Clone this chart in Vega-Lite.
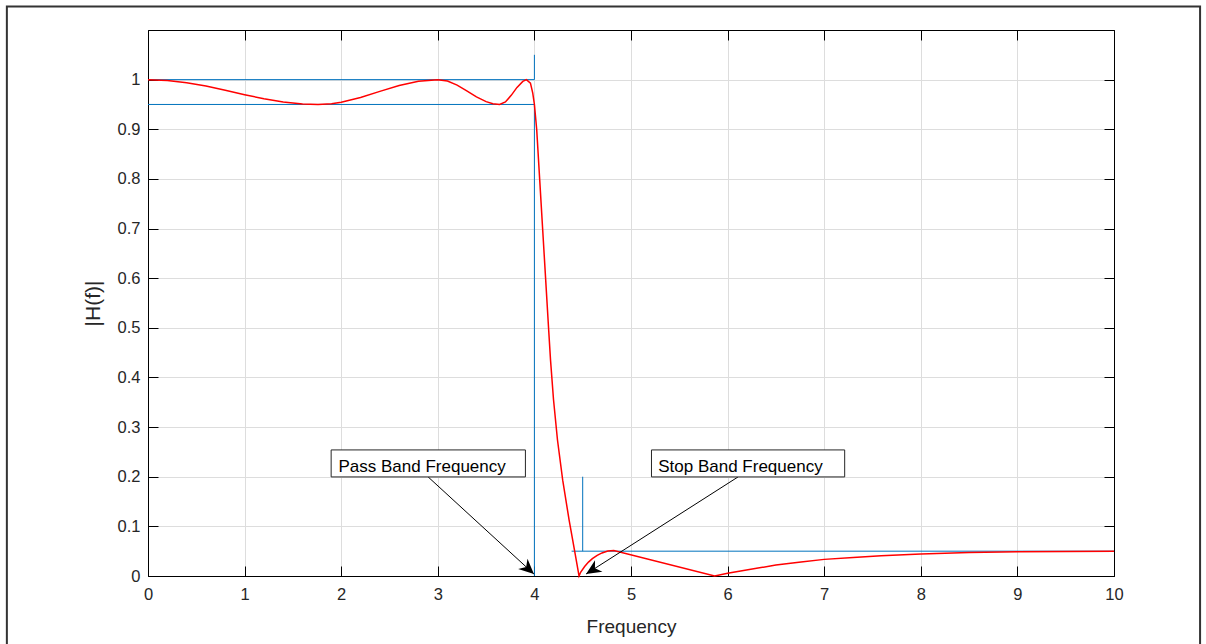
{
  "$schema": "https://vega.github.io/schema/vega-lite/v6.json",
  "width": 966,
  "height": 546,
  "autosize": {"type": "none"},
  "padding": {"left": 148, "top": 30, "right": 92, "bottom": 68},
  "background": "white",
  "config": {
    "view": {"stroke": "#000000", "strokeWidth": 1},
    "font": "Liberation Sans"
  },
  "datasets": {
    "curve": [
      {"f": 0, "h": 1.0}, {"f": 0.2, "h": 0.9984}, {"f": 0.4, "h": 0.9939}, {"f": 0.6, "h": 0.987},
      {"f": 0.8, "h": 0.9786}, {"f": 1.0, "h": 0.9697}, {"f": 1.2, "h": 0.9615}, {"f": 1.4, "h": 0.955},
      {"f": 1.6, "h": 0.951}, {"f": 1.76, "h": 0.95}, {"f": 1.9, "h": 0.9516}, {"f": 2.0, "h": 0.9545},
      {"f": 2.2, "h": 0.964}, {"f": 2.4, "h": 0.9763}, {"f": 2.6, "h": 0.9882}, {"f": 2.8, "h": 0.9969},
      {"f": 3.0, "h": 1.0}, {"f": 3.1, "h": 0.9971}, {"f": 3.2, "h": 0.9889}, {"f": 3.3, "h": 0.9775},
      {"f": 3.4, "h": 0.9654}, {"f": 3.5, "h": 0.9557}, {"f": 3.57, "h": 0.9515}, {"f": 3.64, "h": 0.95},
      {"f": 3.7, "h": 0.9551}, {"f": 3.76, "h": 0.9683}, {"f": 3.82, "h": 0.9843}, {"f": 3.88, "h": 0.9964},
      {"f": 3.917, "h": 1.0}, {"f": 3.959, "h": 0.993}, {"f": 3.983, "h": 0.973}, {"f": 4.0, "h": 0.95},
      {"f": 4.024, "h": 0.899}, {"f": 4.055, "h": 0.798}, {"f": 4.086, "h": 0.697}, {"f": 4.117, "h": 0.596},
      {"f": 4.148, "h": 0.495}, {"f": 4.167, "h": 0.435}, {"f": 4.198, "h": 0.355}, {"f": 4.239, "h": 0.274},
      {"f": 4.293, "h": 0.193}, {"f": 4.359, "h": 0.113}, {"f": 4.415, "h": 0.052}, {"f": 4.462, "h": 0.0},
      {"f": 4.48, "h": 0.008}, {"f": 4.52, "h": 0.019}, {"f": 4.56, "h": 0.028}, {"f": 4.6, "h": 0.035},
      {"f": 4.65, "h": 0.0415}, {"f": 4.7, "h": 0.0465}, {"f": 4.76, "h": 0.0503}, {"f": 4.822, "h": 0.0515},
      {"f": 5.866, "h": 0.0}, {"f": 6.0, "h": 0.0055}, {"f": 6.3, "h": 0.0155}, {"f": 6.5, "h": 0.022},
      {"f": 6.76, "h": 0.028}, {"f": 7.0, "h": 0.0335}, {"f": 7.3, "h": 0.0375}, {"f": 7.59, "h": 0.041},
      {"f": 8.0, "h": 0.0445}, {"f": 8.5, "h": 0.0472}, {"f": 9.0, "h": 0.0488}, {"f": 9.5, "h": 0.0496},
      {"f": 10.0, "h": 0.05}
    ],
    "spec": [
      {"seg": "a", "i": 0, "f": 0, "h": 1}, {"seg": "a", "i": 1, "f": 4, "h": 1}, {"seg": "a", "i": 2, "f": 4, "h": 1.05},
      {"seg": "b", "i": 0, "f": 0, "h": 0.95}, {"seg": "b", "i": 1, "f": 4, "h": 0.95}, {"seg": "b", "i": 2, "f": 4, "h": 0},
      {"seg": "c", "i": 0, "f": 4.5, "h": 0.2}, {"seg": "c", "i": 1, "f": 4.5, "h": 0.05},
      {"seg": "d", "i": 0, "f": 4.385, "h": 0.05}, {"seg": "d", "i": 1, "f": 10, "h": 0.05}
    ],
    "notes": [
      {"label": "Pass Band Frequency", "bx": 1.896, "bx2": 3.907, "by": 0.254, "by2": 0.1996, "tx": 1.972, "ty": 0.2103, "ax": 2.9, "ay": 0.1996, "px": 3.995, "py": 0.004, "ang": 132.4},
      {"label": "Stop Band Frequency", "bx": 5.212, "bx2": 7.212, "by": 0.254, "by2": 0.1996, "tx": 5.282, "ty": 0.2103, "ax": 6.108, "ay": 0.1996, "px": 4.535, "py": 0.004, "ang": 237.5}
    ]
  },
  "layer": [
    {
      "data": {"values": [{}]},
      "mark": {"type": "rect", "fillOpacity": 0, "stroke": "#333333", "strokeWidth": 2},
      "encoding": {
        "x": {"datum": -1.461, "type": "quantitative", "scale": {"domain": [0, 10], "nice": false, "zero": false}, "axis": null},
        "x2": {"datum": 10.891},
        "y": {"datum": 1.1472, "type": "quantitative", "scale": {"domain": [0, 1.1], "nice": false, "zero": false}, "axis": null},
        "y2": {"datum": -0.17}
      }
    },
    {
      "data": {"name": "spec"},
      "mark": {"type": "line", "stroke": "#0072BD", "strokeWidth": 1},
      "encoding": {
        "x": {"field": "f", "type": "quantitative",
          "axis": {"orient": "top", "values": [0,1,2,3,4,5,6,7,8,9,10], "grid": false, "labels": false, "title": null, "tickSize": -10, "tickColor": "#000000", "domainColor": "#000000"}},
        "y": {"field": "h", "type": "quantitative",
          "axis": {"orient": "right", "values": [0,0.1,0.2,0.3,0.4,0.5,0.6,0.7,0.8,0.9,1], "grid": false, "labels": false, "title": null, "tickSize": -10, "tickColor": "#000000", "domainColor": "#000000"}},
        "detail": {"field": "seg"},
        "order": {"field": "i"}
      }
    },
    {
      "data": {"name": "curve"},
      "mark": {"type": "line", "stroke": "#FF0000", "strokeWidth": 1.5},
      "encoding": {
        "x": {"field": "f", "type": "quantitative",
          "axis": {"orient": "bottom", "values": [0,1,2,3,4,5,6,7,8,9,10], "format": "d", "grid": true, "gridColor": "#dddddd", "gridWidth": 1,
            "tickSize": -10, "tickColor": "#000000", "domainColor": "#000000", "labelPadding": 20, "labelFontSize": 16.5, "labelColor": "#262626",
            "labelFlush": false, "labelOverlap": false, "title": "Frequency", "titleFontSize": 19, "titleFontWeight": "normal", "titleColor": "#262626", "titlePadding": 15}},
        "y": {"field": "h", "type": "quantitative",
          "axis": {"orient": "left", "values": [0,0.1,0.2,0.3,0.4,0.5,0.6,0.7,0.8,0.9,1], "format": "~g", "grid": true, "gridColor": "#dddddd", "gridWidth": 1,
            "tickSize": -10, "tickColor": "#000000", "domainColor": "#000000", "labelPadding": 18, "labelFontSize": 16.5, "labelColor": "#262626",
            "labelFlush": false, "labelOverlap": false, "title": "|H(f)|", "titleFontSize": 21, "titleFontWeight": "normal", "titleColor": "#262626", "titlePadding": 14}}
      }
    },
    {
      "data": {"name": "notes"},
      "mark": {"type": "rule", "color": "#000000", "strokeWidth": 1},
      "encoding": {
        "x": {"field": "ax", "type": "quantitative", "axis": null},
        "y": {"field": "ay", "type": "quantitative", "axis": null},
        "x2": {"field": "px"},
        "y2": {"field": "py"}
      }
    },
    {
      "data": {"name": "notes"},
      "mark": {"type": "point", "shape": "M0,0 L0.46,1 L0,0.7 L-0.46,1 Z", "filled": true, "color": "#000000", "opacity": 1, "size": 900, "strokeWidth": 0},
      "encoding": {
        "x": {"field": "px", "type": "quantitative", "axis": null},
        "y": {"field": "py", "type": "quantitative", "axis": null},
        "angle": {"field": "ang", "type": "quantitative", "scale": null}
      }
    },
    {
      "data": {"name": "notes"},
      "mark": {"type": "rect", "fill": "#ffffff", "stroke": "#262626", "strokeWidth": 1},
      "encoding": {
        "x": {"field": "bx", "type": "quantitative", "axis": null},
        "x2": {"field": "bx2"},
        "y": {"field": "by", "type": "quantitative", "axis": null},
        "y2": {"field": "by2"}
      }
    },
    {
      "data": {"name": "notes"},
      "mark": {"type": "text", "align": "left", "baseline": "alphabetic", "fontSize": 17, "color": "#000000"},
      "encoding": {
        "x": {"field": "tx", "type": "quantitative", "axis": null},
        "y": {"field": "ty", "type": "quantitative", "axis": null},
        "text": {"field": "label"}
      }
    }
  ],
  "resolve": {"axis": {"x": "independent", "y": "independent"}}
}
